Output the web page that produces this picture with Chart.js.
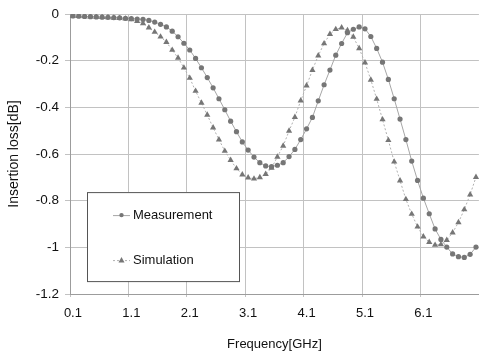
<!DOCTYPE html>
<html>
<head>
<meta charset="utf-8">
<script src="https://cdn.jsdelivr.net/npm/chart.js@4"></script>
<style>
  body { margin: 0; background: #fff; }
</style>
</head>
<body>
<canvas id="myChart" width="485" height="356"></canvas>
<script>
// frequency categories, GHz
const frequencies = [
  '0.1','0.2','0.3','0.4','0.5','0.6','0.7','0.8','0.9','1.0',
  '1.1','1.2','1.3','1.4','1.5','1.6','1.7','1.8','1.9','2.0',
  '2.1','2.2','2.3','2.4','2.5','2.6','2.7','2.8','2.9','3.0',
  '3.1','3.2','3.3','3.4','3.5','3.6','3.7','3.8','3.9','4.0',
  '4.1','4.2','4.3','4.4','4.5','4.6','4.7','4.8','4.9','5.0',
  '5.1','5.2','5.3','5.4','5.5','5.6','5.7','5.8','5.9','6.0',
  '6.1','6.2','6.3','6.4','6.5','6.6','6.7','6.8','6.9','7.0'
];

// only these categories carry a label and a vertical gridline
const xTickLabels = ['0.1', '1.1', '2.1', '3.1', '4.1', '5.1', '6.1'];
const yTicks = [0, -0.2, -0.4, -0.6, -0.8, -1, -1.2];

// insertion loss in dB
const measurement = [
  -0.008, -0.009, -0.010, -0.011, -0.012, -0.013, -0.014, -0.015, -0.016, -0.018,
  -0.019, -0.021, -0.023, -0.027, -0.034, -0.044, -0.055, -0.073, -0.097, -0.125,
  -0.154, -0.190, -0.230, -0.272, -0.316, -0.363, -0.410, -0.459, -0.504, -0.548,
  -0.583, -0.613, -0.637, -0.651, -0.654, -0.648, -0.637, -0.611, -0.580, -0.538,
  -0.492, -0.443, -0.372, -0.303, -0.240, -0.176, -0.126, -0.080, -0.065, -0.055,
  -0.063, -0.096, -0.147, -0.206, -0.280, -0.363, -0.450, -0.538, -0.630, -0.713,
  -0.789, -0.856, -0.921, -0.966, -0.999, -1.028, -1.040, -1.043, -1.030, -0.999
];

const simulation = [
  -0.008, -0.009, -0.010, -0.011, -0.012, -0.013, -0.014, -0.016, -0.018, -0.020,
  -0.023, -0.030, -0.040, -0.058, -0.077, -0.097, -0.120, -0.154, -0.188, -0.230,
  -0.274, -0.330, -0.381, -0.432, -0.487, -0.538, -0.587, -0.626, -0.662, -0.688,
  -0.701, -0.706, -0.700, -0.686, -0.660, -0.612, -0.565, -0.501, -0.442, -0.371,
  -0.307, -0.240, -0.178, -0.126, -0.086, -0.065, -0.058, -0.070, -0.098, -0.147,
  -0.208, -0.282, -0.364, -0.452, -0.541, -0.633, -0.714, -0.794, -0.857, -0.912,
  -0.954, -0.978, -0.990, -0.988, -0.969, -0.937, -0.893, -0.838, -0.774, -0.699
];

const FONT = 'Liberation Sans, Arial, sans-serif';
const GRID = '#c2c2c2';
const MARK = '#767676';

// legend box drawn inside the plot, like the original
const boxLegend = {
  id: 'boxLegend',
  afterDraw(chart) {
    const c = chart.ctx;
    const a = chart.chartArea;
    const x0 = a.left + 17, y0 = a.top + 178, w = 152, h = 89;
    c.save();
    c.fillStyle = '#fff';
    c.fillRect(x0, y0, w, h);
    c.strokeStyle = '#555';
    c.lineWidth = 1;
    c.strokeRect(x0 + 0.5, y0 + 0.5, w, h);
    c.font = '13px ' + FONT;
    c.textBaseline = 'middle';
    chart.data.datasets.forEach((ds, k) => {
      const cy = y0 + 23 + k * 45;
      c.strokeStyle = ds.borderColor;
      c.setLineDash(ds.borderDash || []);
      c.beginPath();
      c.moveTo(x0 + 26, cy + 0.5);
      c.lineTo(x0 + 43, cy + 0.5);
      c.stroke();
      c.setLineDash([]);
      c.fillStyle = MARK;
      c.beginPath();
      if (ds.pointStyle === 'triangle') {
        c.moveTo(x0 + 34.5, cy - 3);
        c.lineTo(x0 + 37.5, cy + 2.5);
        c.lineTo(x0 + 31.5, cy + 2.5);
        c.closePath();
      } else {
        c.arc(x0 + 34.5, cy, 2.2, 0, Math.PI * 2);
      }
      c.fill();
      c.fillStyle = '#111';
      c.fillText(ds.label, x0 + 46, cy);
    });
    c.restore();
  }
};

const ctx = document.getElementById('myChart');

new Chart(ctx, {
  type: 'line',
  data: {
    labels: frequencies,
    datasets: [
      {
        label: 'Measurement',
        data: measurement,
        borderColor: '#a6a6a6',
        borderWidth: 1,
        pointStyle: 'circle',
        pointRadius: 2.6,
        pointBackgroundColor: MARK,
        pointBorderWidth: 0,
        tension: 0
      },
      {
        label: 'Simulation',
        data: simulation,
        borderColor: '#b0b0b0',
        borderWidth: 1,
        borderDash: [2, 2],
        pointStyle: 'triangle',
        pointRadius: 3.6,
        pointBackgroundColor: MARK,
        pointBorderWidth: 0,
        tension: 0
      }
    ]
  },
  options: {
    responsive: false,
    animation: false,
    devicePixelRatio: 1,
    layout: { padding: { top: 12, right: 0, bottom: 0, left: 0 } },
    plugins: {
      legend: { display: false },
      tooltip: { enabled: false }
    },
    scales: {
      x: {
        type: 'category',
        offset: true,
        afterFit: s => { s.height = 62; },
        grid: {
          offset: true,
          color: g => (g.index !== undefined && g.index % 10 === 0) ? GRID : 'rgba(0,0,0,0)',
          lineWidth: 1,
          drawTicks: true,
          tickLength: 3
        },
        border: { color: '#9c9c9c', width: 1 },
        ticks: {
          autoSkip: false,
          maxRotation: 0,
          padding: 9,
          color: '#111',
          font: { family: FONT, size: 13 },
          callback: function (v) {
            const lab = this.getLabelForValue(v);
            return xTickLabels.includes(lab) ? lab : '';
          }
        },
        title: {
          display: true,
          text: 'Frequency[GHz]',
          color: '#111',
          font: { family: FONT, size: 13 },
          padding: { top: 0, bottom: 4 }
        }
      },
      y: {
        min: -1.2,
        max: 0,
        afterFit: s => { s.width = 70; },
        afterBuildTicks: s => { s.ticks = yTicks.map(v => ({ value: v })); },
        grid: { color: GRID, lineWidth: 1, tickLength: 5 },
        border: { color: '#9c9c9c', width: 1 },
        ticks: {
          padding: 6,
          color: '#111',
          font: { family: FONT, size: 13.5 },
          callback: v => String(Math.round(v * 10) / 10)
        },
        title: {
          display: true,
          text: 'Insertion loss[dB]',
          color: '#111',
          font: { family: FONT, size: 14 },
          padding: { top: 6, bottom: 0 }
        }
      }
    }
  },
  plugins: [boxLegend]
});
</script>
</body>
</html>
